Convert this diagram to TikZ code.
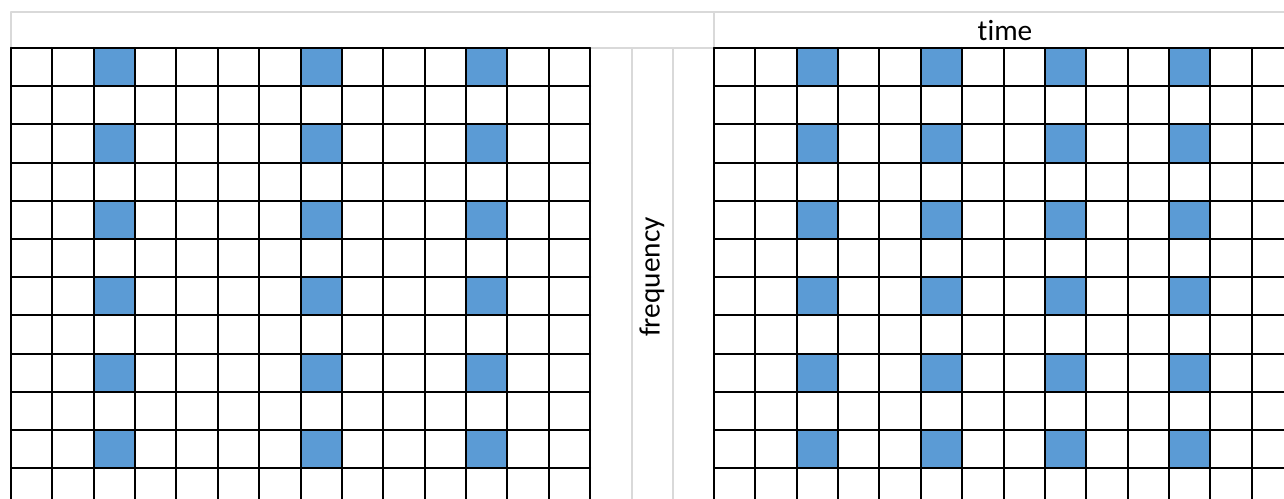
\documentclass[tikz,border=0pt]{standalone}
\usepackage{fontspec}
\setmainfont[Ligatures=NoCommon]{Carlito}
\usetikzlibrary{calc}
\definecolor{cellblue}{HTML}{5B9BD5}
\definecolor{rulegray}{HTML}{D9D9D9}
\tikzset{
  gridline/.style={black, line width=1.5pt},
  sheetline/.style={rulegray, line width=1.2pt},
}
\def\colw{41.36}
\def\rowh{38.2}
\begin{document}
\begin{tikzpicture}[x=0.75pt, y=-0.75pt, line join=round, line cap=round, font=\fontsize{22}{26}\selectfont]
	\useasboundingbox (0,0) rectangle (1284,499);
	\clip (0,0) rectangle (1284,499);
	% Góc các lưới
	\coordinate (L) at (11,48);
	\coordinate (R) at (714,48);
	
	% Hàng tiêu đề
	\draw[sheetline] (11,48) -- (11,12) -- (1300,12);
	\draw[sheetline] (714,12) -- (R);
	\draw[sheetline] (590,48) -- (R);
	
	% Các cột xám ở giữa
	\draw[sheetline] (632,48) -- (632,510);
	\draw[sheetline] (673,48) -- (673,510);
	
	% Ô màu lưới trái
	\foreach \c in {2,7,11}
		\foreach \r in {0,2,...,10}
			\fill[cellblue] ($(L)+({\c*\colw},{\r*\rowh})$) rectangle ++(\colw,\rowh);
	
	% Ô màu lưới phải
	\foreach \c in {2,5,8,11}
		\foreach \r in {0,2,...,10}
			\fill[cellblue] ($(R)+({\c*\colw},{\r*\rowh})$) rectangle ++(\colw,\rowh);
	
	% Lưới trái
	\foreach \i in {0,...,14}
		\draw[gridline] ($(L)+({\i*\colw},0)$) -- ++(0,470);
	\foreach \j in {0,...,12}
		\draw[gridline] ($(L)+(0,{\j*\rowh})$) -- ++({14*\colw},0);
	
	% Lưới phải
	\foreach \i in {0,...,14}
		\draw[gridline] ($(R)+({\i*\colw},0)$) -- ++(0,470);
	\foreach \j in {0,...,12}
		\draw[gridline] ($(R)+(0,{\j*\rowh})$) -- ++(600,0);
	
	% Nhãn
	\node (time) at (1005,31) {time};
	\node[rotate=90] (freq) at (652,277) {frequency};
\end{tikzpicture}
\end{document}
